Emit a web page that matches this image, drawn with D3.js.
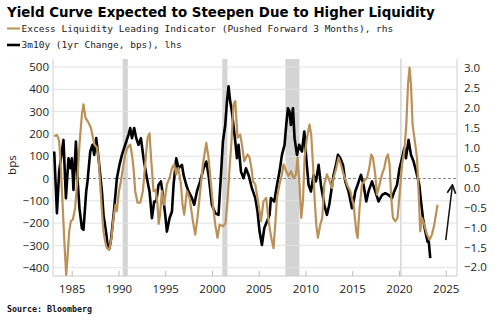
<!DOCTYPE html>
<html lang="en">
<head>
<meta charset="UTF-8">
<title>Yield Curve vs Liquidity</title>
<script src="https://d3js.org/d3.v7.min.js"></script>
<style>
  body { margin: 0; background: #fff; }
  svg { display: block; }
</style>
</head>
<body>
<div id="chart"></div>
<script>
// 3m10y curve, 1yr change in bps (left axis)
const curveYears = [1983.13,1983.42,1983.66,1984.12,1984.38,1984.66,1984.84,1985.02,1985.19,1985.45,1985.62,1985.83,1986.09,1986.26,1986.55,1986.69,1986.98,1987.22,1987.41,1987.62,1987.87,1988.23,1988.40,1988.69,1988.83,1989.04,1989.22,1989.55,1989.83,1990.11,1990.37,1990.72,1991.07,1991.26,1991.44,1991.68,1991.90,1992.14,1992.40,1992.68,1993.04,1993.32,1993.58,1993.82,1994.04,1994.28,1994.54,1994.75,1995.00,1995.18,1995.46,1995.72,1995.89,1996.18,1996.42,1996.79,1996.96,1997.25,1997.49,1997.86,1998.10,1998.39,1998.74,1999.10,1999.39,1999.63,1999.99,2000.35,2000.70,2000.96,2001.17,2001.42,2001.60,2001.77,2001.95,2002.13,2002.49,2002.67,2002.84,2003.10,2003.37,2003.63,2003.91,2004.27,2004.63,2004.87,2005.09,2005.34,2005.59,2005.88,2006.16,2006.30,2006.66,2006.95,2007.22,2007.48,2007.76,2007.94,2008.12,2008.28,2008.44,2008.66,2008.83,2009.09,2009.33,2009.62,2009.87,2010.08,2010.33,2010.58,2010.86,2011.12,2011.40,2011.65,2012.01,2012.29,2012.54,2012.75,2013.00,2013.26,2013.47,2013.72,2014.01,2014.25,2014.60,2014.97,2015.21,2015.32,2015.57,2015.93,2016.21,2016.50,2016.74,2017.11,2017.46,2017.81,2018.18,2018.53,2018.88,2019.25,2019.49,2019.78,2020.06,2020.32,2020.56,2020.74,2021.02,2021.28,2021.56,2021.84,2022.17,2022.35,2022.56,2022.81,2023.05,2023.18,2023.34];
const curveBps = [121,-156,33,173,-88,91,46,91,-51,166,1,-133,-223,-230,-58,-13,121,151,106,181,91,-58,-163,-245,-298,-313,-268,-133,1,61,106,151,196,226,181,226,181,151,181,91,1,-58,-178,-103,-103,-29,-13,-74,-163,-238,-178,-148,-29,91,46,61,16,-29,-58,-88,-118,-58,-13,46,76,16,-118,-156,-163,16,166,240,345,413,345,300,166,91,151,31,1,46,16,-43,-88,-148,-238,-298,-223,-193,-163,-88,-103,-29,31,106,151,240,315,302,240,315,181,106,151,121,211,91,-29,-58,16,-13,61,-29,-118,-163,-118,-58,16,61,106,91,61,-13,-58,-133,-88,-58,-29,16,-29,-103,-58,-13,-58,-103,-74,-66,-74,-88,-58,-29,46,91,136,91,173,106,76,31,-29,-103,-178,-238,-283,-281,-357];

// Excess liquidity leading indicator, pushed forward 3 months (right axis)
const liqYears = [1983.13,1983.42,1983.66,1983.84,1984.06,1984.23,1984.41,1984.55,1984.73,1984.91,1985.13,1985.37,1985.62,1985.83,1986.09,1986.26,1986.48,1986.80,1987.05,1987.27,1987.44,1987.70,1987.87,1988.05,1988.23,1988.40,1988.58,1988.76,1989.01,1989.26,1989.47,1989.68,1989.83,1990.05,1990.26,1990.48,1990.72,1990.97,1991.26,1991.44,1991.61,1991.79,1992.04,1992.33,1992.61,1992.86,1993.11,1993.32,1993.50,1993.75,1993.98,1994.18,1994.30,1994.44,1994.65,1994.89,1995.18,1995.46,1995.72,1995.96,1996.18,1996.42,1996.68,1996.85,1997.03,1997.32,1997.60,1997.96,1998.21,1998.45,1998.74,1999.03,1999.39,1999.63,1999.89,2000.10,2000.35,2000.59,2000.81,2001.17,2001.45,2001.66,2001.88,2002.09,2002.30,2002.49,2002.73,2003.02,2003.20,2003.45,2003.80,2004.02,2004.27,2004.38,2004.63,2004.98,2005.24,2005.51,2005.80,2006.05,2006.34,2006.58,2006.76,2006.95,2007.22,2007.48,2007.65,2007.94,2008.19,2008.44,2008.72,2008.98,2009.15,2009.36,2009.55,2009.73,2009.90,2010.16,2010.43,2010.61,2010.80,2010.97,2011.15,2011.33,2011.58,2011.79,2012.01,2012.29,2012.57,2012.83,2013.00,2013.29,2013.53,2013.79,2014.07,2014.43,2014.79,2015.14,2015.43,2015.57,2015.78,2016.04,2016.28,2016.57,2016.82,2017.03,2017.21,2017.46,2017.64,2017.92,2018.18,2018.42,2018.64,2018.82,2018.99,2019.17,2019.35,2019.60,2019.84,2020.06,2020.32,2020.56,2020.78,2020.96,2021.13,2021.28,2021.45,2021.74,2021.92,2022.09,2022.27,2022.45,2022.70,2022.99,2023.27,2023.52,2023.77,2024.12];
const liqValues = [1.29,1.32,1.17,0.49,-0.59,-1.43,-2.19,-1.77,-1.10,-0.84,-0.80,-0.51,0.24,1.08,1.83,2.09,1.75,1.63,1.50,1.25,1.08,1.00,0.75,0.08,-0.59,-1.10,-1.35,-1.52,-1.56,-1.26,-0.76,-0.43,-0.59,-0.09,0.16,0.49,0.83,1.00,1.08,0.83,0.49,-0.09,-0.38,-0.38,-0.09,0.58,1.25,1.36,0.70,-0.09,-0.06,-0.43,-0.91,-0.69,-0.09,-0.43,0.08,0.24,0.49,0.58,0.33,0.49,0.08,-0.43,-0.68,-0.09,-0.26,-0.84,-1.18,-0.76,-0.09,0.58,1.12,0.75,0.08,-0.43,-0.93,-1.26,-0.93,-0.97,-0.89,-0.34,0.49,1.17,2.09,2.17,1.25,1.33,1.08,0.66,0.83,0.75,0.41,0.16,0.08,-0.43,-0.84,-0.34,-0.26,-0.84,-1.26,-1.52,-0.93,-0.26,0.08,0.33,0.58,0.41,0.29,0.41,0.24,0.33,0.75,0.08,-0.76,-0.34,0.75,1.25,1.58,1.33,0.58,-0.26,-0.93,-1.26,-0.93,-0.76,0.08,0.33,0.16,-0.01,0.24,0.49,0.75,0.58,0.33,0.08,-0.09,-0.43,-1.10,-1.26,-0.51,0.08,0.16,0.24,0.49,0.83,0.75,0.33,-0.18,0.08,0.33,0.49,0.75,0.83,0.58,-0.26,-0.76,-0.84,-0.76,-0.18,0.58,0.91,1.58,2.59,3.01,2.59,1.58,1.08,0.75,-0.09,-1.10,-0.76,-0.93,-1.18,-1.31,-1.18,-0.93,-0.43];

// US recessions (shaded)
const recessionStart = [1990.45, 2001.10, 2007.85, 2020.12];
const recessionEnd   = [1991.00, 2001.65, 2009.35, 2020.28];

const yearTicks = [1985, 1990, 1995, 2000, 2005, 2010, 2015, 2020, 2025];
const leftTicks = [-400, -300, -200, -100, 0, 100, 200, 300, 400, 500];
const rightTicks = [-2.0, -1.5, -1.0, -0.5, 0.0, 0.5, 1.0, 1.5, 2.0, 2.5, 3.0];

// annotation arrow (year, rhs value)
const arrowFrom = [2025.0, -1.32];
const arrowTo = [2025.7, 0.04];

const W = 500, H = 326;
const plotLeft = 53, plotRight = 457, plotTop = 59, plotBottom = 276;
const goldColor = "#bb9158";

const svg = d3.select("#chart").append("svg")
    .attr("width", W)
    .attr("height", H);

const x = d3.scaleLinear().domain([1983.0, 2026.2]).range([plotLeft, plotRight]);
const yL = d3.scaleLinear().domain([-400, 500]).range([267.7, 67]);
const yR = d3.scaleLinear().domain([-2, 3]).range([267.3, 68]);

// recession bands
svg.append("g").selectAll("rect")
    .data(recessionStart.map((s, i) => [s, recessionEnd[i]]))
    .join("rect")
    .attr("x", d => x(d[0]))
    .attr("width", d => Math.max(1.5, x(d[1]) - x(d[0])))
    .attr("y", plotTop)
    .attr("height", plotBottom - plotTop)
    .attr("fill", "#d4d4d4");

// gridlines from left axis
svg.append("g").selectAll("line")
    .data(leftTicks)
    .join("line")
    .attr("x1", plotLeft)
    .attr("x2", plotRight)
    .attr("y1", d => yL(d))
    .attr("y2", d => yL(d))
    .attr("stroke", d => d === 0 ? "#8a8a8a" : "#e2e2e2")
    .attr("stroke-width", 1)
    .attr("stroke-dasharray", d => d === 0 ? "3,2" : null);

// frame lines
svg.append("line").attr("x1", plotLeft).attr("x2", plotLeft).attr("y1", plotTop).attr("y2", plotBottom)
    .attr("stroke", "#d0d0d0");
svg.append("line").attr("x1", plotRight).attr("x2", plotRight).attr("y1", plotTop).attr("y2", plotBottom)
    .attr("stroke", "#d0d0d0");

// axes
const tickFont = "'Open Sans', sans-serif";

const xAxis = svg.append("g")
    .attr("transform", "translate(0," + plotBottom + ")")
    .call(d3.axisBottom(x).tickValues(yearTicks).tickFormat(d3.format("d")).tickSize(-5).tickPadding(9));

const leftAxis = svg.append("g")
    .attr("transform", "translate(" + plotLeft + ",0)")
    .call(d3.axisLeft(yL).tickValues(leftTicks).tickFormat(d3.format("d")).tickSize(0).tickPadding(4));

const rightAxis = svg.append("g")
    .attr("transform", "translate(" + plotRight + ",0)")
    .call(d3.axisRight(yR).tickValues(rightTicks).tickFormat(d3.format(".1f")).tickSize(0).tickPadding(7));

[xAxis, leftAxis, rightAxis].forEach(a => {
    a.select(".domain").remove();
    a.selectAll("text")
        .attr("fill", "#222")
        .style("font-family", tickFont)
        .style("font-size", "11.5px");
});
xAxis.selectAll("line").attr("stroke", "#b8b8b8");
svg.append("line").attr("x1", plotLeft).attr("x2", plotRight).attr("y1", plotBottom).attr("y2", plotBottom)
    .attr("stroke", "#c8c8c8");

// bps label
svg.append("text")
    .attr("transform", "translate(16," + yL(60) + ") rotate(-90)")
    .attr("text-anchor", "middle")
    .style("font-family", tickFont)
    .style("font-size", "11.5px")
    .attr("fill", "#222")
    .text("bps");

// lines
const curveLine = d3.line()
    .x((d, i) => x(curveYears[i]))
    .y(d => yL(d));

const liqLine = d3.line()
    .x((d, i) => x(liqYears[i]))
    .y(d => yR(d));

svg.append("path")
    .datum(curveBps)
    .attr("fill", "none")
    .attr("stroke", "#000")
    .attr("stroke-width", 2.6)
    .attr("stroke-linejoin", "round")
    .attr("d", curveLine);

svg.append("path")
    .datum(liqValues)
    .attr("fill", "none")
    .attr("stroke", goldColor)
    .attr("stroke-width", 2.2)
    .attr("stroke-linejoin", "round")
    .attr("d", liqLine);

// arrow
svg.append("defs").append("marker")
    .attr("id", "head")
    .attr("viewBox", "0 0 10 10")
    .attr("refX", 8).attr("refY", 5)
    .attr("markerWidth", 7).attr("markerHeight", 7)
    .attr("orient", "auto")
    .append("path")
    .attr("d", "M1,1 L9,5 L1,9")
    .attr("fill", "none")
    .attr("stroke", "#111")
    .attr("stroke-width", 1.6);

svg.append("line")
    .attr("x1", x(arrowFrom[0])).attr("y1", yR(arrowFrom[1]))
    .attr("x2", x(arrowTo[0])).attr("y2", yR(arrowTo[1]))
    .attr("stroke", "#111")
    .attr("stroke-width", 1.5)
    .attr("marker-end", "url(#head)");

// title
const title = svg.append("text")
    .attr("x", 7)
    .attr("y", 16.5)
    .style("font-family", "'DejaVu Sans', Verdana, sans-serif")
    .style("font-weight", "bold")
    .style("font-size", "15px")
    .attr("fill", "#000")
    .text("Yield Curve Expected to Steepen Due to Higher Liquidity");
const tw = title.node().getComputedTextLength();
title.style("font-size", (15 * 428 / tw) + "px");

// legend
const legendItems = [
    { label: "Excess Liquidity Leading Indicator (Pushed Forward 3 Months), rhs", color: goldColor, width: 2, y: 28.5 },
    { label: "3m10y (1yr Change, bps), lhs", color: "#000", width: 2.6, y: 45 }
];
const legend = svg.append("g");
legend.selectAll("line")
    .data(legendItems)
    .join("line")
    .attr("x1", 7).attr("x2", 20)
    .attr("y1", d => d.y).attr("y2", d => d.y)
    .attr("stroke", d => d.color)
    .attr("stroke-width", d => d.width);
legend.selectAll("text")
    .data(legendItems)
    .join("text")
    .attr("x", 21.5)
    .attr("y", d => d.y + 3.3)
    .style("font-family", "'DejaVu Sans Mono', monospace")
    .style("font-size", "9.5px")
    .attr("fill", "#222")
    .text(d => d.label);

// source
svg.append("text")
    .attr("x", 7)
    .attr("y", 312)
    .style("font-family", "'DejaVu Sans Mono', monospace")
    .style("font-weight", "bold")
    .style("font-size", "8.3px")
    .attr("fill", "#111")
    .text("Source: Bloomberg");
</script>
</body>
</html>
